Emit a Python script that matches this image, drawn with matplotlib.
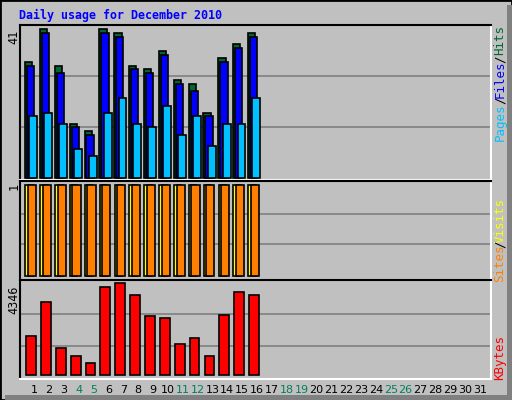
import matplotlib
matplotlib.use("Agg")
import matplotlib.pyplot as plt
from matplotlib.patches import Rectangle

days = list(range(1, 32))
ndata = 16
hits = [32, 41, 31, 15, 13, 41, 40, 31, 30, 35, 27, 26, 18, 33, 37, 40]
files = [31, 40, 29, 14, 12, 40, 39, 30, 29, 34, 26, 24, 17, 32, 36, 39]
pages = [17, 18, 15, 8, 6, 18, 22, 15, 14, 20, 12, 17, 9, 15, 15, 22]
visits = [1] * 16
sites = [1] * 16
kbytes = [1863, 3486, 1289, 907, 573, 4155, 4346, 3773, 2818, 2722, 1480, 1767, 907, 2865, 3916, 3773]
weekends = [4, 5, 11, 12, 18, 19, 25, 26]

W, H = 512, 400
fig = plt.figure(figsize=(5.12, 4.0), dpi=100)
fig.patch.set_facecolor("#C0C0C0")
fig.add_artist(Rectangle((0, 0), 1, 1, transform=fig.transFigure, fill=False, ec="black", lw=2))
fig.add_artist(Rectangle((507/W, 0), 5/W, 1 - 5/H, transform=fig.transFigure, fc="#808080", ec="none"))
fig.add_artist(Rectangle((5/W, 0), 1 - 5/W, 5/H, transform=fig.transFigure, fc="#808080", ec="none"))

mono = "DejaVu Sans Mono"

def ax_at(top, bottom, left=20, right=491):
    a = fig.add_axes([left/W, 1 - bottom/H, (right-left)/W, (bottom-top)/H])
    a.set_facecolor("#C0C0C0")
    a.set_xlim(0.06, 31.74)
    a.set_xticks([]); a.set_yticks([])
    a.spines["left"].set_color("black"); a.spines["top"].set_color("black")
    a.spines["right"].set_color("white"); a.spines["bottom"].set_color("white")
    for s in a.spines.values():
        s.set_linewidth(1.5)
    return a

x = days[:ndata]
ec = dict(edgecolor="black", linewidth=1.2, align="edge")

a1 = ax_at(25, 180)
a1.set_ylim(-0.5, 42.2)
for f in (1/3, 2/3):
    a1.axhline(f*42.2, color="#808080", lw=1.2, zorder=0)
a1.bar([d-0.6 for d in x], hits, width=0.49, color="#006633", **ec)
a1.bar([d-0.47 for d in x], files, width=0.49, color="#0000FF", **ec)
a1.bar([d-0.31 for d in x], pages, width=0.53, color="#00C0FF", **ec)

a2 = ax_at(181, 280)
a2.set_ylim(-0.04, 1.04)
for f in (0.35, 0.68):
    a2.axhline(f, color="#808080", lw=1.2, zorder=0)
a2.bar([d-0.58 for d in x], visits, width=0.5, color="#FFFF00", **ec)
a2.bar([d-0.41 for d in x], sites, width=0.55, color="#FF8000", **ec)

a3 = ax_at(280, 379)
a3.set_ylim(-177, 4504)
for v in (1400, 2900):
    a3.axhline(v, color="#808080", lw=1.2, zorder=0)
a3.bar([d-0.53 for d in x], kbytes, width=0.66, color="#FF0000", **ec)

for d in days:
    a3.text(d, -0.06, str(d), transform=a3.get_xaxis_transform(), ha="center", va="top",
            fontsize=8, color="#00805C" if d in weekends else "black", family="DejaVu Sans")

fig.text(19/W, 1 - 15/H, "Daily usage for December 2010", family=mono, weight="bold",
         fontsize=8.4, color="#0000FF", va="center", ha="left")

for txt, yp in (("41", 37), ("1", 186), ("4346", 300)):
    fig.text(14/W, 1 - yp/H, txt, rotation=90, ha="center", va="center", fontsize=8.5, family=mono)

def rlab(parts):
    for txt, col, yp in parts:
        fig.text(500/W, 1 - yp/H, txt, rotation=90, ha="center", va="center",
                 fontsize=9, family=mono, color=col)

rlab([("Hits", "#006633", 40), ("/", "black", 59), ("Files", "#0000FF", 79),
      ("/", "black", 100), ("Pages", "#00C0FF", 122)])
rlab([("Visits", "#FFFF00", 220), ("/", "black", 244), ("Sites", "#FF8000", 263)])
rlab([("KBytes", "#FF0000", 358)])

fig.savefig("out.png", dpi=100, facecolor=fig.get_facecolor())
